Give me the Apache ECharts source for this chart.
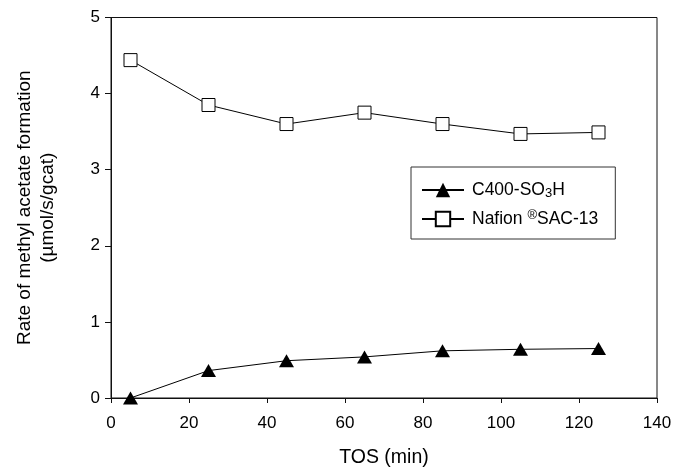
<!DOCTYPE html>
<html>
<head>
<meta charset="utf-8">
<script src="https://cdn.jsdelivr.net/npm/echarts@6/dist/echarts.min.js"></script>
<style>html,body{margin:0;padding:0;background:#fff}#c{width:675px;height:473px}</style>
</head>
<body>
<div id="c"></div>
<script>
const tos = [5, 25, 45, 65, 85, 105, 125];
const c400 = [0.0, 0.36, 0.49, 0.54, 0.62, 0.64, 0.65];
const nafion = [4.44, 3.85, 3.60, 3.75, 3.60, 3.47, 3.49];
const seriesNames = ['C400-SO3H', 'Nafion SAC-13'];
const xTitle = 'TOS (min)';
const yTitle = 'Rate of methyl acetate formation\n(\u00b5mol/s/gcat)';

const F = '"Liberation Sans", Arial, sans-serif';
const chart = echarts.init(document.getElementById('c'), null, {renderer: 'canvas'});
chart.setOption({
  animation: false,
  backgroundColor: '#fff',
  grid: {left: 111, right: 18, top: 17.5, bottom: 72, show: true, borderColor: '#111', borderWidth: 1, backgroundColor: 'transparent'},
  xAxis: {
    type: 'value', min: 0, max: 140, interval: 20,
    name: xTitle, nameLocation: 'middle', nameGap: 50,
    nameTextStyle: {fontFamily: F, fontSize: 19.5, color: '#000'},
    axisLine: {show: true, lineStyle: {color: '#111', width: 1}},
    axisTick: {show: true, inside: false, length: 5, lineStyle: {color: '#111'}},
    axisLabel: {fontFamily: F, fontSize: 17, color: '#000', margin: 17},
    splitLine: {show: false}
  },
  yAxis: {
    type: 'value', min: 0, max: 5, interval: 1,
    name: yTitle, nameLocation: 'middle', nameGap: 51.5, nameRotate: 90,
    nameTextStyle: {fontFamily: F, fontSize: 19, color: '#000', lineHeight: 23},
    axisLine: {show: true, lineStyle: {color: '#111', width: 1}},
    axisTick: {show: true, inside: false, length: 6, lineStyle: {color: '#111'}},
    axisLabel: {fontFamily: F, fontSize: 17, color: '#000', margin: 11},
    splitLine: {show: false}
  },
  legend: {
    left: 411, top: 167, width: 209,
    orient: 'vertical',
    padding: [14, 17, 11, 10],
    itemGap: 9,
    borderColor: '#333', borderWidth: 1,
    backgroundColor: '#fff',
    itemWidth: 42, itemHeight: 18,
    textStyle: {
      fontFamily: F, fontSize: 17.5, color: '#000', padding: [0, 0, 0, 3],
      rich: {
        a: {fontFamily: F, fontSize: 17.5, color: '#000'},
        sub: {fontFamily: F, fontSize: 13, color: '#000', verticalAlign: 'bottom', padding: [7, 0, 0, 0]},
        sup: {fontFamily: F, fontSize: 13, color: '#000', verticalAlign: 'top', padding: [0, 0, 7, 0]}
      }
    },
    formatter: function (n) {
      if (n === seriesNames[0]) return '{a|C400-SO}{sub|3}{a|H}';
      return '{a|Nafion }{sup|\u00ae}{a|SAC-13}';
    },
    data: seriesNames
  },
  series: [
    {
      name: seriesNames[0], type: 'line',
      data: tos.map((x, i) => [x, c400[i]]),
      symbol: 'triangle', symbolSize: [15, 13],
      itemStyle: {color: '#000', borderColor: '#000', borderWidth: 0},
      lineStyle: {color: '#000', width: 1},
      z: 3
    },
    {
      name: seriesNames[1], type: 'line',
      data: tos.map((x, i) => [x, nafion[i]]),
      symbol: 'rect', symbolSize: 13,
      itemStyle: {color: '#fff', borderColor: '#000', borderWidth: 1},
      lineStyle: {color: '#000', width: 1},
      z: 3
    }
  ]
});
</script>
</body>
</html>
